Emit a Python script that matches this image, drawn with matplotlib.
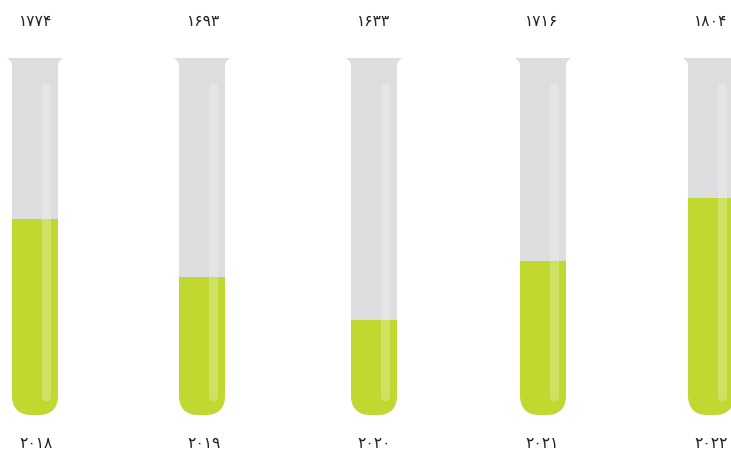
import matplotlib
matplotlib.use("Agg")
import matplotlib.pyplot as plt
from matplotlib.path import Path
from matplotlib.patches import PathPatch, FancyBboxPatch

years = ["۲۰۱۸", "۲۰۱۹", "۲۰۲۰", "۲۰۲۱", "۲۰۲۲"]
value_labels = ["۱۷۷۴", "۱۶۹۳", "۱۶۳۳", "۱۷۱۶", "۱۸۰۴"]
values = [1774, 1693, 1633, 1716, 1804]
tube_min = 1500
tube_max = 2000

# layout, in pixels
W, H = 731, 451
centres = [35, 202, 374, 543, 711]
label_centres = [36, 204, 374, 542, 711]
half = 23
tube_top_px, tube_bottom_px = 58, 415
per_px = (tube_max - tube_min) / (tube_bottom_px - tube_top_px)


def v(px):
    """value on the y axis for a pixel row"""
    return tube_min + (tube_bottom_px - px) * per_px


fig = plt.figure(figsize=(W / 100, H / 100), dpi=100, facecolor="white")
ax = fig.add_axes([0, 0, 1, 1])
ax.set_xlim(0, W)
ax.set_ylim(v(H), v(0))
ax.axis("off")

GREY = "#DCDDDF"
LIME = "#C0D830"
r = 20

for c, val, val_lab, yr, lc in zip(centres, values, value_labels, years, label_centres):
    l, rt = c - half, c + half
    verts = [
        (l - 5, v(58)), (rt + 5, v(58)),
        (rt + 3, v(60)), (rt + 0.5, v(61)), (rt, v(65)),
        (rt, v(415 - r)),
        (rt, v(415)), (rt - r, v(415)),
        (l + r, v(415)),
        (l, v(415)), (l, v(415 - r)),
        (l, v(65)),
        (l - 0.5, v(61)), (l - 3, v(60)), (l - 5, v(58)),
        (l - 5, v(58)),
    ]
    codes = [Path.MOVETO, Path.LINETO,
             Path.CURVE4, Path.CURVE4, Path.CURVE4,
             Path.LINETO,
             Path.CURVE3, Path.CURVE3,
             Path.LINETO,
             Path.CURVE3, Path.CURVE3,
             Path.LINETO,
             Path.CURVE4, Path.CURVE4, Path.CURVE4,
             Path.CLOSEPOLY]
    tube = PathPatch(Path(verts, codes), facecolor=GREY, edgecolor="none", zorder=1)
    ax.add_patch(tube)

    bars = ax.bar(c, val - tube_min, bottom=tube_min, width=2 * half,
                  color=LIME, linewidth=0, zorder=2)
    bars[0].set_clip_path(tube)

    # glass highlight: drawn in pixel space so its round ends stay circular
    hi = FancyBboxPatch((c + 7 + 4.5, H - 401 + 4.5), 0, 401 - 83 - 9,
                        boxstyle="round,pad=4.5,rounding_size=4.5",
                        transform=matplotlib.transforms.IdentityTransform(),
                        facecolor="white", edgecolor="none", alpha=0.25, zorder=3)
    ax.add_patch(hi)

    ax.text(lc, v(21), val_lab, ha="center", va="center", fontsize=11.2,
            family=["DejaVu Sans"], color="#222222")
    ax.text(lc, v(443), yr, ha="center", va="center", fontsize=11.2,
            family=["DejaVu Sans"], color="#222222")

fig.savefig("out.png", dpi=100, facecolor="white")
